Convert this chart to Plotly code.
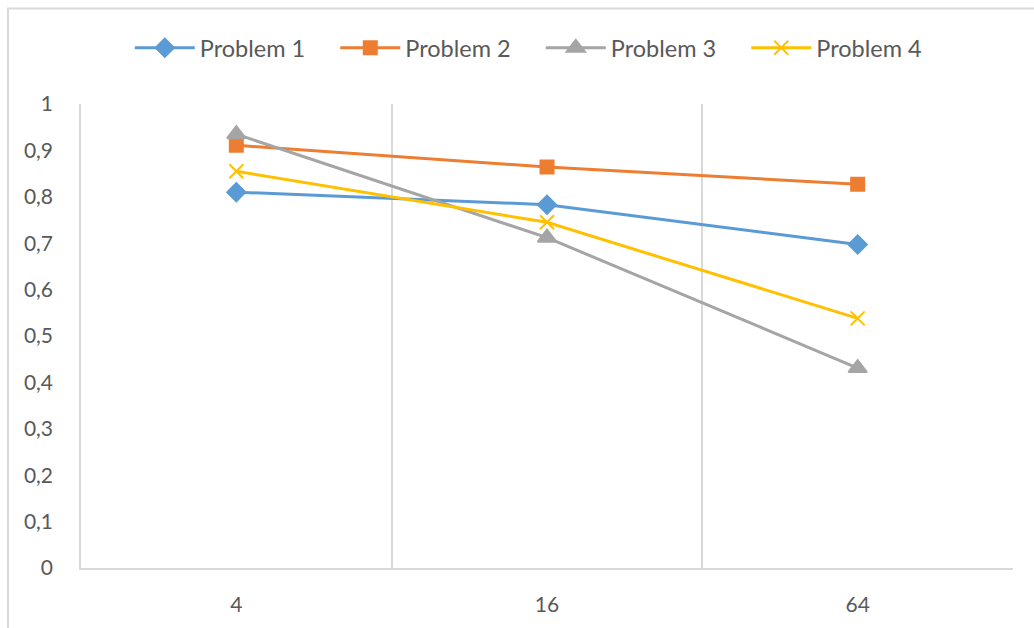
import plotly.graph_objects as go

# Category axis (problem size) and measured values for each problem
sizes = ["4", "16", "64"]
problem_1 = [0.810, 0.783, 0.697]
problem_2 = [0.911, 0.864, 0.827]
problem_3 = [0.935, 0.712, 0.431]
problem_4 = [0.855, 0.745, 0.538]

series = [
    ("Problem 1", problem_1, "#5B9BD5", "diamond", 14),
    ("Problem 2", problem_2, "#ED7D31", "square", 13),
    ("Problem 3", problem_3, "#A5A5A5", "triangle-up", 16),
    ("Problem 4", problem_4, "#FFC000", "x-thin", 14),
]

TEXT = "#595959"
GRID = "#D9D9D9"
FONT = "Lato, Liberation Sans, sans-serif"

fig = go.Figure()
for name, vals, color, symbol, size in series:
    fig.add_trace(go.Scatter(
        x=sizes, y=vals, name=name, mode="lines+markers",
        line=dict(color=color, width=3),
        marker=dict(symbol=symbol, size=size, color=color,
                    line=dict(color=color, width=2)),
    ))

W, H = 1034, 628
L, R, T, B = 81, 21, 104, 57
pw, ph = W - L - R, H - T - B

fig.update_layout(
    width=W, height=H,
    margin=dict(l=L, r=R, t=T, b=B),
    paper_bgcolor="white", plot_bgcolor="white",
    separators=", ",
    font=dict(family=FONT, size=21, color=TEXT),
    hovermode=False,
    legend=dict(
        orientation="h", xref="container", yref="container",
        x=0.523, xanchor="center", y=1 - 48 / H, yanchor="middle",
        font=dict(size=23.5, color=TEXT), itemwidth=60, tracegroupgap=0,
        entrywidth=130.5, entrywidthmode="pixels",
    ),
    xaxis=dict(
        type="category", range=[-0.5, 2.5], tickson="boundaries",
        showgrid=True, gridcolor=GRID, gridwidth=1.5,
        showline=True, linecolor=GRID, linewidth=1.5,
        ticks="", ticklabelstandoff=17, zeroline=False,
    ),
    yaxis=dict(
        range=[0, 1], dtick=0.1, tick0=0,
        showgrid=False, zeroline=False,
        showline=True, linecolor=GRID, linewidth=1.5,
        ticks="", ticklabelstandoff=22,
    ),
    shapes=[dict(
        type="rect", xref="paper", yref="paper", layer="below",
        x0=(8 - L) / pw, x1=(W + 10 - L) / pw,
        y0=-(H + 10 - T - ph) / ph, y1=(ph + T - 8) / ph,
        line=dict(color=GRID, width=2), fillcolor="rgba(0,0,0,0)",
    )],
)

fig.write_html("out.html")
